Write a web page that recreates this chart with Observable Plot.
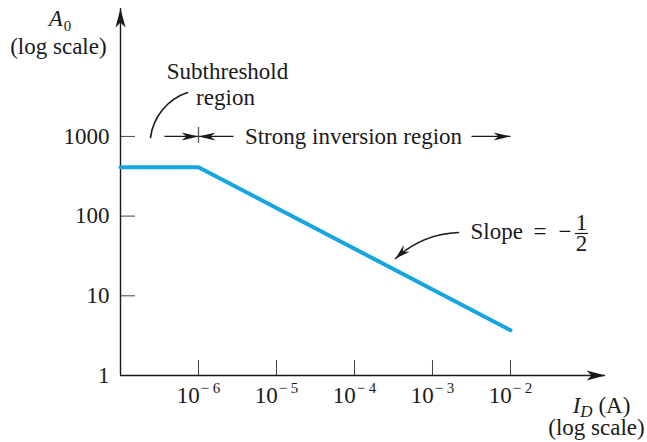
<!DOCTYPE html>
<html><head><meta charset="utf-8">
<script src="https://cdn.jsdelivr.net/npm/d3@7"></script>
<script src="https://cdn.jsdelivr.net/npm/@observablehq/plot@0.6"></script>
<style>body{margin:0;background:#fff}</style>
</head><body><div id="chart"></div>
<script>
// ---- chart data ----
const currentA = [1e-7, 1e-6, 1e-2];          // I_D (A)
const gainA0   = [410, 410, 3.7];             // A0
const xTicks = [1e-6, 1e-5, 1e-4, 1e-3, 1e-2];
const xTickLabels = ["10^− 6", "10^− 5", "10^− 4", "10^− 3", "10^− 2"];
const yTicks = [1, 10, 100, 1000];
const yTickLabels = ["1", "10", "100", "1000"];
const xDomain = [1e-7, 0.1652];
const yDomain = [1, 40270];

// ---- annotation anchors (data coordinates) ----
const centerNotes = [
  {x: 2.355e-6, y: 5327, text: "Subthreshold"},
  {x: 2.219e-6, y: 2514, text: "region"},
  {x: 9.71e-5,  y: 814,  text: "Strong inversion region"},
  {x: 0.02387,  y: 50.9, text: "="},
  {x: 0.05,     y: 50.9, text: "−"},
  {x: 1.60e-8,  y: 10970, text: "(log scale)"},
  {x: 0.1266,   y: 0.1767, text: "(log scale)"}
];
const fractionNote = [{x: 0.0813, y: 37.0, text: "1\n2"}];
const startNotes = [{x: 3.07e-3, y: 50.9, text: "Slope"}];
const axisTitles = [
  {x: 1.676e-8, y: 24630, text: "A_0"},
  {x: 0.1468,   y: 0.3337, text: "I_D (A)"}
];

const bracketArrows = [
  {x1: 3.66e-7, x2: 1e-6, y: 1000, dir: 90},
  {x1: 2.81e-6, x2: 1e-6, y: 1000, dir: -90},
  {x1: 3.16e-3, x2: 1e-2, y: 1000, dir: 90}
];
const bracketBar = [{x: 1e-6, y1: 815, y2: 1294}];
const subCurve = [{x1: 2.424e-7, y1: 968, x2: 7.23e-7, y2: 3556}];
const slopeCurve = [{x1: 2.15e-3, y1: 62.3, x2: 3.36e-4, y2: 29.4, dir: 228}];
const fractionBar = [{y: 60.5, x1: 0.0681, x2: 0.1}];
const axisTips = [
  {x: xDomain[1], y: 1, dir: 90},
  {x: xDomain[0], y: yDomain[1], dir: 0}
];

function stealth(len, half, notch) {
  return {draw(ctx) {
    ctx.moveTo(0, 0);
    ctx.lineTo(half, len);
    ctx.lineTo(0, len - notch);
    ctx.lineTo(-half, len);
    ctx.closePath();
  }};
}

const ink = "#1a1a1a";
const lineData = currentA.map((x, i) => ({x, y: gainA0[i]}));

const chart = Plot.plot({
  width: 647, height: 442,
  marginLeft: 120, marginRight: 42, marginTop: 8, marginBottom: 67,
  style: {fontFamily: "'Liberation Serif', 'Times New Roman', serif", fontSize: "23px", color: ink, background: "#fff"},
  x: {type: "log", domain: xDomain, label: null},
  y: {type: "log", domain: yDomain, label: null},
  marks: [
    Plot.axisX({ticks: xTicks, tickSize: -15, tickFormat: () => "", stroke: "#444", label: null}),
    Plot.axisX({ticks: xTicks, tickSize: 0, tickPadding: 11, fontSize: 23,
      tickFormat: d => xTickLabels[xTicks.indexOf(d)], label: null}),
    Plot.axisY({ticks: yTicks, tickSize: -15, tickFormat: () => "", stroke: "#444", label: null}),
    Plot.axisY({ticks: yTicks, tickSize: 0, tickPadding: 11, fontSize: 23,
      tickFormat: d => yTickLabels[yTicks.indexOf(d)], label: null}),
    Plot.ruleY([1], {x1: xDomain[0], x2: xDomain[1], stroke: ink, strokeWidth: 1.4}),
    Plot.ruleX([xDomain[0]], {y1: 1, y2: yDomain[1], stroke: ink, strokeWidth: 1.4}),
    Plot.dot(axisTips, {x: "x", y: "y", rotate: "dir", symbol: stealth(19, 5, 5), r: 1, fill: ink, stroke: "none"}),
    Plot.line(lineData, {x: "x", y: "y", stroke: "#16a5e3", strokeWidth: 4, strokeLinejoin: "miter"}),
    // annotations
    Plot.link(bracketArrows, {x1: "x1", x2: "x2", y1: "y", y2: "y", stroke: ink, strokeWidth: 1.3}),
    Plot.dot(bracketArrows, {x: "x2", y: "y", rotate: "dir", symbol: stealth(17, 4, 5), r: 1, fill: ink, stroke: "none"}),
    Plot.ruleX(bracketBar, {x: "x", y1: "y1", y2: "y2", stroke: "#555", strokeWidth: 1.3}),
    Plot.arrow(subCurve, {x1: "x1", y1: "y1", x2: "x2", y2: "y2", bend: 32, headLength: 0, stroke: ink, strokeWidth: 1.6}),
    Plot.arrow(slopeCurve, {x1: "x1", y1: "y1", x2: "x2", y2: "y2", bend: -20, headLength: 0, stroke: ink, strokeWidth: 1.6}),
    Plot.dot(slopeCurve, {x: "x2", y: "y2", rotate: "dir", symbol: stealth(15, 4.5, 5), r: 1, fill: ink, stroke: "none"}),
    Plot.ruleY(fractionBar, {y: "y", x1: "x1", x2: "x2", stroke: ink, strokeWidth: 1.2}),
    Plot.text(centerNotes, {x: "x", y: "y", text: "text", lineAnchor: "bottom", fontSize: 23, fill: ink}),
    Plot.text(fractionNote, {x: "x", y: "y", text: "text", lineAnchor: "bottom", lineHeight: 0.913, fontSize: 23, fill: ink}),
    Plot.text(startNotes, {x: "x", y: "y", text: "text", lineAnchor: "bottom", textAnchor: "start", fontSize: 23, fill: ink}),
    Plot.text(axisTitles, {x: "x", y: "y", text: "text", lineAnchor: "bottom", fontSize: 23, fill: ink})
  ]
});

const ns = "http://www.w3.org/2000/svg";
function span(parent, txt, attrs) {
  const s = document.createElementNS(ns, "tspan");
  s.textContent = txt;
  for (const k in attrs) s.setAttribute(k, attrs[k]);
  parent.appendChild(s);
}
chart.querySelectorAll("text").forEach(t => {
  const s = t.textContent;
  if (s.includes("^")) {            // superscript exponents on x tick labels
    const [base, exp] = s.split("^");
    t.textContent = "";
    span(t, base, {});
    span(t, exp, {"font-size": "15", dy: "-10", dx: "1"});
  } else if (s.includes("_")) {     // italic symbol with subscript
    const [sym, rest] = s.split("_");
    const sp = rest.indexOf(" ");
    const sub = sp < 0 ? rest : rest.slice(0, sp);
    const tail = sp < 0 ? "" : rest.slice(sp);
    const digitSub = /^[0-9]+$/.test(sub);
    t.textContent = "";
    span(t, sym, {"font-style": "italic"});
    span(t, sub, digitSub ? {"font-size": "15", dy: "5", dx: "1"} : {"font-size": "17", "font-style": "italic", dy: "4"});
    if (tail) span(t, tail, {dy: "-4"});
  }
});

document.getElementById("chart").appendChild(chart);
</script>
</body></html>
